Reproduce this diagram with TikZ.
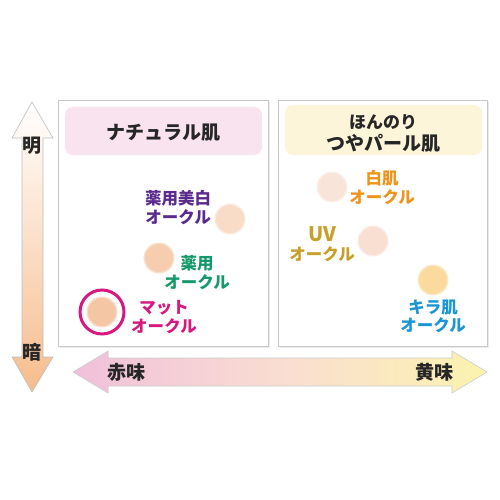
\documentclass[tikz,border=0pt]{standalone}
\usepackage{fontspec}
\newfontfamily\jp{Noto Sans CJK JP}
\definecolor{panelline}{HTML}{C8C8C8}
\definecolor{pinkbox}{HTML}{F9E3EE}
\definecolor{yellowbox}{HTML}{FDF5DA}
\definecolor{cpurple}{HTML}{5A2A8C}
\definecolor{cgreen}{HTML}{16996A}
\definecolor{cmagenta}{HTML}{D6187F}
\definecolor{corange}{HTML}{EE941C}
\definecolor{cgold}{HTML}{C7A02A}
\definecolor{cblue}{HTML}{1C95D6}
\definecolor{dotA}{HTML}{F9DCC8}
\definecolor{dotB}{HTML}{F6CDAE}
\definecolor{dotC}{HTML}{F4C6A3}
\definecolor{dotD}{HTML}{F9E4DA}
\definecolor{dotE}{HTML}{F9DED2}
\definecolor{dotF}{HTML}{FBDA9E}
\definecolor{arrowor}{HTML}{F6BC8C}
\definecolor{arrowpink}{HTML}{F0C0DA}
\definecolor{arrowmid}{HTML}{FADDD2}
\definecolor{arrowyel}{HTML}{FBF3AE}
\begin{document}
\begin{tikzpicture}[x=1pt,y=-1pt,
  panel/.style={draw=panelline, line width=0.8pt, fill=white},
  titlebox/.style={rounded corners=8pt},
  dot/.style={circle, inner sep=0pt, minimum size=28pt},
  lbl/.style={font=\jp\bfseries\fontsize{16.5}{18.5}\selectfont, align=center, inner sep=0pt},
  ttl/.style={font=\jp\bfseries\fontsize{19}{22}\selectfont, text=black!85, inner sep=0pt},
  axl/.style={font=\jp\bfseries\fontsize{19}{22}\selectfont, text=black!85, inner sep=0pt}]
\useasboundingbox (0,0) rectangle (500,500);
% panels
\fill[black!8] (60,102) rectangle (270,348);
\fill[black!8] (280,102) rectangle (489,348);
\node[panel, minimum width=210pt, minimum height=246pt, inner sep=0pt] (pl) at (163,223) {};
\node[panel, minimum width=209pt, minimum height=246pt, inner sep=0pt] (pr) at (382.5,223) {};
% title boxes
\fill[pinkbox, titlebox] (65,107) rectangle (262,155);
\fill[yellowbox, titlebox] (285,105) rectangle (482,155);
\node[ttl] (t1) at (163,133) {ナチュラル肌};
\node[ttl, font=\jp\bfseries\fontsize{17}{20}\selectfont] (t2a) at (383,122) {ほんのり};
\node[ttl] (t2b) at (383,143) {つやパール肌};
% dots
\fill[dotA!60] (230,219) circle (15.5);
\node[dot, fill=dotA] (d1) at (230,219) {};
\fill[dotB!60] (159,258) circle (15.5);
\node[dot, fill=dotB] (d2) at (159,258) {};
\fill[dotC!60] (102,312) circle (15.5);
\node[dot, fill=dotC] (d3) at (102,312) {};
\node[circle, draw=cmagenta, line width=3pt, minimum size=44pt, inner sep=0pt] (ring) at (102,312) {};
\fill[dotD!60] (332,187) circle (15.5);
\node[dot, fill=dotD] (d4) at (332,187) {};
\fill[dotE!60] (373,241) circle (15.5);
\node[dot, fill=dotE] (d5) at (373,241) {};
\fill[dotF!60] (433,280) circle (15.5);
\node[dot, fill=dotF] (d6) at (433,280) {};
% labels
\node[lbl, text=cpurple] (l1) at (178,207.5) {薬用美白\\オークル};
\node[lbl, text=cgreen] (l2) at (197,272.5) {薬用\\オークル};
\node[lbl, text=cmagenta] (l3) at (164,317) {マット\\オークル};
\node[lbl, text=corange] (l4) at (382,187.5) {白肌\\オークル};
\node[lbl, text=cgold] (l5) at (322,244) {{\fontsize{20}{18.5}\selectfont UV}\\オークル};
\node[lbl, text=cblue] (l6) at (433,316.5) {キラ肌\\オークル};
% vertical arrow
\shade[top color=white, bottom color=arrowor, draw=black!25, line width=0.6pt]
  (32,102) -- (53,138) -- (43,138) -- (43,357) -- (53,357) -- (32,392)
  -- (12,357) -- (22,357) -- (22,138) -- (12,138) -- cycle;
\node[axl] (bright) at (32,146) {明};
\node[axl] (dark) at (32,352) {暗};
% horizontal arrow
\shade[left color=arrowpink, right color=arrowyel, middle color=arrowmid, draw=black!20, line width=0.6pt]
  (73,372) -- (108,351) -- (108,358) -- (452,358) -- (452,351) -- (487,372)
  -- (452,393) -- (452,386) -- (108,386) -- (108,393) -- cycle;
\node[axl] (red) at (126,372) {赤味};
\node[axl] (yellow) at (434,372) {黄味};
\end{tikzpicture}
\end{document}
